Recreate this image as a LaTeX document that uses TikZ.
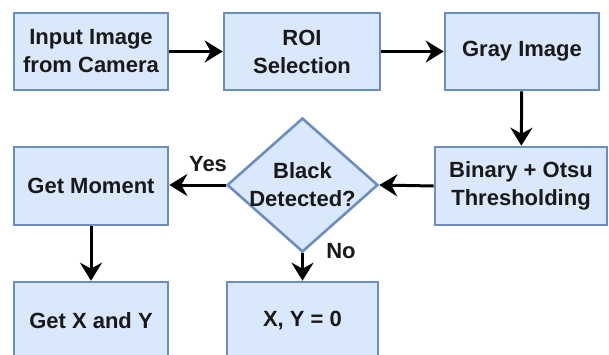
\documentclass[tikz,border=0pt]{standalone}
\usepackage{fontspec}
\setmainfont{Liberation Sans}
\usetikzlibrary{shapes.geometric,arrows.meta}

\definecolor{boxfill}{HTML}{DAE8FC}
\definecolor{boxline}{HTML}{6C8EBF}

\begin{document}
\begin{tikzpicture}[x=1pt, y=-1pt,
		every node/.style={font=\fontsize{22}{28}\selectfont\bfseries, text=black!90},
		stepbox/.style={draw=boxline, fill=boxfill, line width=2.6pt, align=center, inner sep=0pt},
		decision/.style={diamond, draw=boxline, fill=boxfill, line width=2.6pt, inner sep=0pt, minimum width=151pt, minimum height=134pt},
		flow/.style={line width=3pt, -{Stealth[length=18pt, width=22pt, inset=6pt]}}
	]
			\clip (0,0) rectangle (609,354);
			
			% top row
			\node[stepbox, minimum width=154pt, minimum height=77pt] (cam) at (91,51.5) {Input Image\\from Camera};
			\node[stepbox, minimum width=156pt, minimum height=77pt] (roi) at (302,51.5) {ROI\\Selection};
			\node[stepbox, minimum width=154pt, minimum height=77pt] (gray) at (522,51.5) {Gray Image};
			
			% middle row
			\node[stepbox, minimum width=172pt, minimum height=78pt] (otsu) at (521,186) {Binary + Otsu\\Thresholding};
			\node[decision, label={[align=center]center:Black\\Detected?}] (black) at (302.5,185) {};
			\node[stepbox, minimum width=154pt, minimum height=78pt] (moment) at (91,186) {Get Moment};
			
			% bottom row
			\node[stepbox, minimum width=154pt, minimum height=77pt] (getxy) at (91,320.5) {Get X and Y};
			\node[stepbox, minimum width=151pt, minimum height=77pt] (zero) at (302.5,320.5) {X, Y = 0};
			
			\draw[flow] (cam) -- (roi);
			\draw[flow] (roi) -- (gray);
			\draw[flow] (gray) -- (otsu);
			\draw[flow] (otsu.west) -- (black.east);
			\draw[flow] (black.west) -- (moment.east |- black.west);
			\draw[flow] (black.south) -- (zero.north);
			\draw[flow] (moment) -- (getxy);
			
			\node (yes) at (208,164) {Yes};
			\node (no) at (341,251) {No};
		\end{tikzpicture}
\end{document}
